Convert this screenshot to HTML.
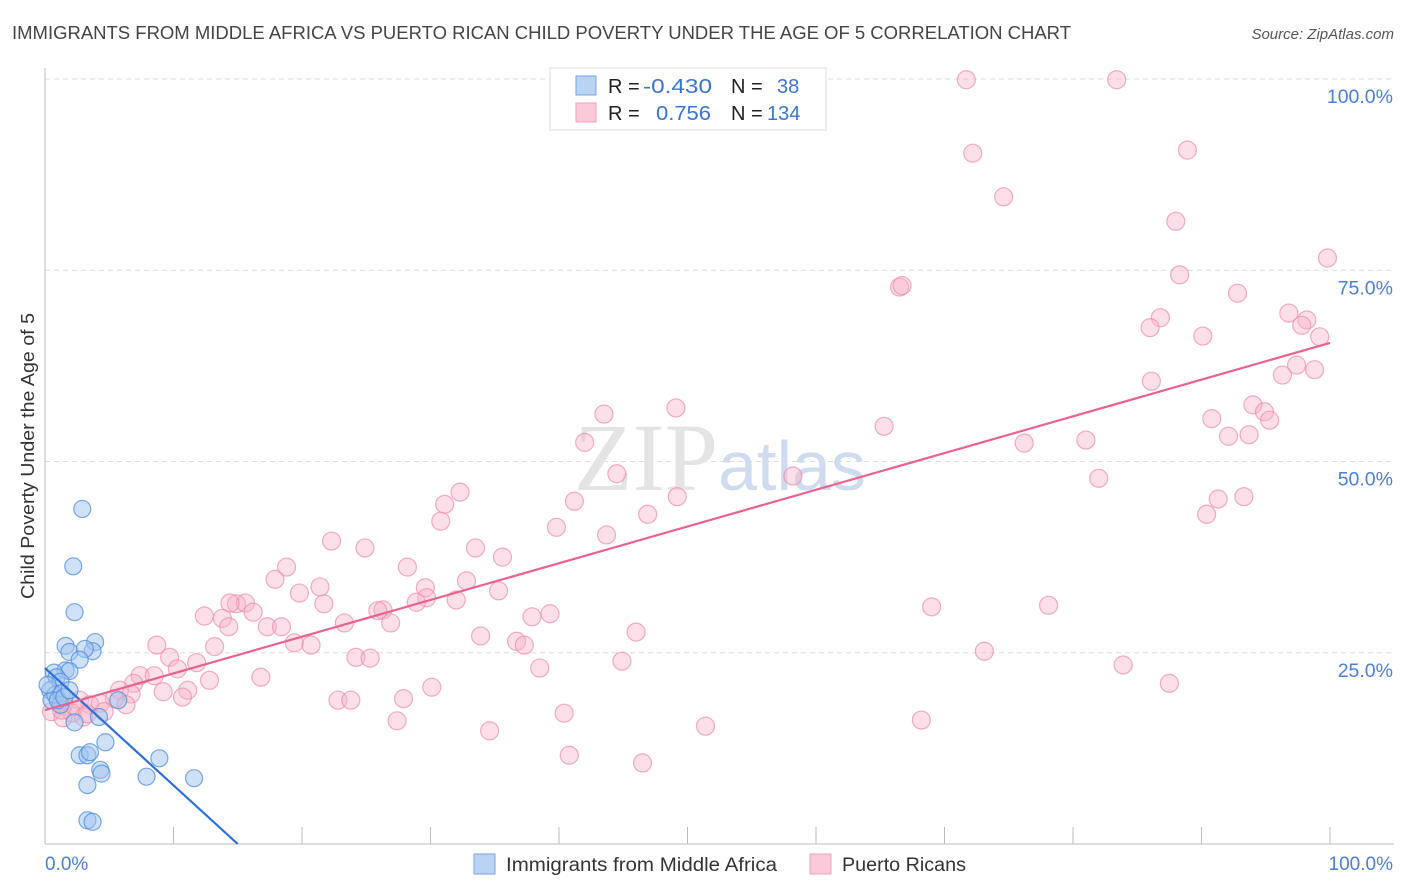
<!DOCTYPE html>
<html><head><meta charset="utf-8"><style>
body{margin:0;background:#fff;font-family:"Liberation Sans",sans-serif}
svg{display:block}
</style></head><body>
<svg id="chart" width="1406" height="892" viewBox="0 0 1406 892" xmlns="http://www.w3.org/2000/svg">
<text x="12" y="39" font-size="18" fill="#444" textLength="1059" lengthAdjust="spacingAndGlyphs">IMMIGRANTS FROM MIDDLE AFRICA VS PUERTO RICAN CHILD POVERTY UNDER THE AGE OF 5 CORRELATION CHART</text>
<text x="1394" y="39" font-size="15" fill="#555" font-style="italic" text-anchor="end">Source: ZipAtlas.com</text>
<g id="grid"></g>
<text x="720" y="490" font-size="96" text-anchor="middle" fill="#e4e4e4" font-family="Liberation Serif,serif">ZIP<tspan fill="#cfdcf0" font-family="Liberation Sans,sans-serif" font-size="70">atlas</tspan></text>
<line x1="45" y1="844" x2="1394" y2="844" stroke="#bbb"/>
<line x1="45" y1="68" x2="45" y2="844" stroke="#bbb"/>
<g id="ticks"></g>
<g id="pink"></g><g id="blue"></g>
<g id="lines"></g>
<text transform="translate(34,456) rotate(-90)" font-size="18" fill="#333" text-anchor="middle" textLength="286" lengthAdjust="spacingAndGlyphs">Child Poverty Under the Age of 5</text>
<text x="45" y="870" font-size="19" fill="#4a7fd6">0.0%</text>
<text x="1393" y="870" font-size="19" fill="#4a7fd6" text-anchor="end">100.0%</text>
<g>
<rect x="550" y="68" width="276" height="62" fill="#fff" stroke="#ddd"/>
<rect x="576" y="76" width="20" height="19" fill="#b9d3f5" stroke="#7aa6e0"/>
<rect x="576" y="103" width="20" height="19" fill="#fbcad8" stroke="#f0a0b8"/>
<text y="93" font-size="20" fill="#222"><tspan x="608">R =</tspan><tspan x="643" fill="#3a75d0" textLength="69" lengthAdjust="spacingAndGlyphs">-0.430</tspan><tspan x="731">N =</tspan><tspan x="777" fill="#3a75d0">38</tspan></text>
<text y="120" font-size="20" fill="#222"><tspan x="608">R =</tspan><tspan x="656" fill="#3a75d0" textLength="55" lengthAdjust="spacingAndGlyphs">0.756</tspan><tspan x="731">N =</tspan><tspan x="767" fill="#3a75d0">134</tspan></text>
</g>
<g><rect x="474" y="854" width="21" height="20" fill="#b9d3f5" stroke="#7aa6e0"/><text x="506" y="871" font-size="19" fill="#333" textLength="271" lengthAdjust="spacingAndGlyphs">Immigrants from Middle Africa</text></g>
<g><rect x="810" y="854" width="21" height="20" fill="#fbcad8" stroke="#f0a0b8"/><text x="842" y="871" font-size="19" fill="#333" textLength="124" lengthAdjust="spacingAndGlyphs">Puerto Ricans</text></g>
</svg>
<script>
const yTicks=[25,50,75,100];
const yTickLabels=["25.0%","50.0%","75.0%","100.0%"];
const xTicks=[0,10,20,30,40,50,60,70,80,90,100];
const blueX=[2.9,2.2,2.3,3.9,1.6,3.7,1.9,3.1,2.7,1.6,1.9,0.7,0.9,1.2,0.4,0.5,0.8,1.3,1.2,2.3,2.7,3.3,3.5,4.7,4.3,4.4,3.3,8.9,7.9,11.6,5.7,4.2,3.3,3.7,1.0,0.2,1.5,1.9];
const blueY=[43.8,36.3,30.3,26.4,25.9,25.2,25.1,25.5,24.1,22.7,22.6,22.4,21.8,21.2,20.1,18.8,19.5,19.7,18.2,15.9,11.6,11.6,12.0,13.3,9.7,9.2,7.7,11.2,8.8,8.6,18.8,16.6,3.1,2.9,18.8,20.8,19.2,20.1];
const pinkX=[71.7,83.4,72.2,88.9,74.6,88.0,99.8,66.5,66.7,88.3,92.8,86.8,86.0,96.8,98.2,97.8,90.1,99.2,86.1,96.3,97.4,98.8,94.0,94.9,90.8,95.3,92.1,93.7,81.0,76.2,65.3,43.5,49.1,42.0,44.5,58.2,82.0,91.3,93.3,90.4,32.3,31.1,30.8,49.2,46.9,41.2,39.8,43.7,33.5,35.6,22.3,24.9,18.8,17.9,28.2,32.8,29.6,21.4,19.8,29.7,32.0,35.3,28.9,26.3,25.9,21.7,14.9,15.6,14.4,16.2,12.4,13.8,14.3,17.3,18.4,23.3,26.9,37.9,39.3,69.0,78.1,33.9,36.7,37.3,46.0,19.4,20.7,8.7,13.2,9.7,24.2,25.3,44.9,38.5,73.1,83.9,11.8,10.3,7.4,8.5,12.8,16.8,6.9,9.2,30.1,87.5,5.8,11.1,6.7,10.7,5.4,6.3,22.8,23.8,27.9,2.7,3.5,4.3,4.6,1.4,2.1,0.5,1.4,3.0,27.4,40.4,34.6,51.4,68.2,40.8,46.5,1.3,2.3,3.3];
const pinkY=[99.9,99.9,90.3,90.7,84.6,81.4,76.6,72.8,73.0,74.4,72.0,68.8,67.5,69.4,68.5,67.8,66.4,66.3,60.5,61.3,62.6,62.0,57.4,56.5,55.6,55.4,53.3,53.5,52.8,52.4,54.6,56.2,57.0,52.5,48.4,48.1,47.8,45.1,45.4,43.1,46.0,44.4,42.2,45.4,43.1,44.8,41.4,40.4,38.7,37.5,39.6,38.7,36.2,34.6,36.2,34.4,33.5,33.6,32.8,32.2,31.9,33.1,31.6,30.6,30.5,31.4,31.4,31.5,31.5,30.3,29.8,29.5,28.4,28.4,28.4,28.9,28.9,29.7,30.1,31.0,31.2,27.2,26.5,26.0,27.7,26.3,26.0,26.0,25.8,24.4,24.4,24.3,23.9,23.0,25.2,23.4,23.7,22.9,22.0,22.0,21.4,21.8,21.0,19.9,20.5,21.0,20.1,20.1,19.6,19.2,19.0,18.2,18.8,18.8,19.0,18.8,18.2,18.4,17.3,18.0,17.1,17.3,16.5,16.6,16.1,17.1,14.8,15.4,16.2,11.6,10.6,17.5,18.0,17.0];
const blueFit=[0,23.0,15,0];
const pinkFit=[0,17.5,100,65.5];
const NS="http://www.w3.org/2000/svg";
const sx=v=>45+v*12.85, sy=v=>844-v*7.65;
function mk(t,a,p){const e=document.createElementNS(NS,t);for(const k in a)e.setAttribute(k,a[k]);document.getElementById(p).appendChild(e);return e;}
yTicks.forEach((t,i)=>{
 const l=mk('line',{x1:45,x2:1394,y1:sy(t),y2:sy(t),stroke:'#ddd','stroke-dasharray':'5,4'},'grid');
 
 
 const tx=mk('text',{x:1393,y:sy(t)+24,'font-size':19.5,fill:'#4a7fd6','text-anchor':'end'},'grid');
 tx.textContent=yTickLabels[i];
 
 
});
xTicks.forEach(t=>{
 const l=mk('line',{x1:sx(t),x2:sx(t),y1:827,y2:844,stroke:'#bbb'},'ticks');
 
 
});
pinkX.forEach((x,i)=>{
 const c=mk('circle',{cx:sx(x),cy:sy(pinkY[i]),r:9,fill:'rgba(248,178,200,0.42)',stroke:'rgba(236,140,170,0.7)','stroke-width':1.2},'pink');
 
 
});
blueX.forEach((x,i)=>{
 const c=mk('circle',{cx:sx(x),cy:sy(blueY[i]),r:8.5,fill:'rgba(160,196,240,0.5)',stroke:'rgba(80,140,220,0.75)','stroke-width':1.2},'blue');
 
 
});
const bl=mk('line',{x1:sx(blueFit[0]),y1:sy(blueFit[1]),x2:sx(blueFit[2]),y2:sy(blueFit[3]),stroke:'#2c6fd6','stroke-width':2.2},'lines');


const pl=mk('line',{x1:sx(pinkFit[0]),y1:sy(pinkFit[1]),x2:sx(pinkFit[2]),y2:sy(pinkFit[3]),stroke:'#e8638f','stroke-width':2.2},'lines');


</script>
</body></html>
